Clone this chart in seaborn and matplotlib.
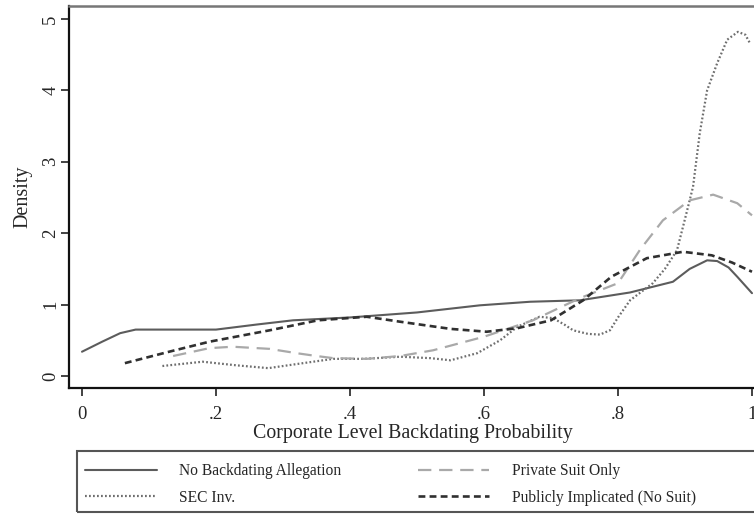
import matplotlib
matplotlib.use("Agg")
import matplotlib.pyplot as plt
import seaborn as sns
import pandas as pd
from matplotlib.lines import Line2D
from matplotlib.patches import Rectangle

# ---- data ----
no_alleg_x = [0.0, 0.03, 0.057, 0.08, 0.12, 0.2, 0.26, 0.315, 0.4, 0.5, 0.594, 0.669, 0.743,
              0.818, 0.882, 0.907, 0.933, 0.948, 0.965, 0.978, 1.0]
no_alleg_y = [0.34, 0.48, 0.60, 0.65, 0.65, 0.65, 0.72, 0.78, 0.82, 0.89, 0.99, 1.04, 1.06,
              1.17, 1.32, 1.50, 1.62, 1.61, 1.52, 1.39, 1.16]

sec_x = [0.12, 0.15, 0.18, 0.23, 0.278, 0.33, 0.375, 0.42, 0.475, 0.52, 0.55, 0.59, 0.624, 0.65,
         0.683, 0.703, 0.72, 0.733, 0.755, 0.773, 0.788, 0.80, 0.818, 0.835, 0.852, 0.87, 0.888,
         0.90, 0.912, 0.922, 0.933, 0.948, 0.963, 0.979, 0.99, 0.997]
sec_y = [0.14, 0.17, 0.20, 0.15, 0.11, 0.18, 0.24, 0.24, 0.27, 0.25, 0.22, 0.32, 0.50, 0.69,
         0.83, 0.81, 0.72, 0.64, 0.59, 0.58, 0.64, 0.82, 1.06, 1.18, 1.30, 1.50, 1.76,
         2.20, 2.65, 3.40, 4.00, 4.38, 4.71, 4.82, 4.78, 4.66]

priv_x = [0.136, 0.19, 0.225, 0.28, 0.32, 0.35, 0.375, 0.425, 0.475, 0.524, 0.60, 0.673, 0.743,
          0.80, 0.833, 0.867, 0.907, 0.942, 0.978, 1.0]
priv_y = [0.28, 0.39, 0.41, 0.38, 0.32, 0.28, 0.25, 0.24, 0.28, 0.36, 0.55, 0.78, 1.09,
          1.30, 1.77, 2.18, 2.46, 2.54, 2.42, 2.25]

pub_x = [0.064, 0.13, 0.19, 0.28, 0.352, 0.425, 0.475, 0.55, 0.604, 0.65, 0.70, 0.748, 0.79,
         0.843, 0.897, 0.94, 0.97, 1.0]
pub_y = [0.18, 0.34, 0.48, 0.64, 0.78, 0.83, 0.76, 0.66, 0.62, 0.67, 0.78, 1.06, 1.39,
         1.65, 1.74, 1.69, 1.59, 1.46]

labels = ["No Backdating Allegation", "SEC Inv.", "Private Suit Only", "Publicly Implicated (No Suit)"]
xticks = [0, 0.2, 0.4, 0.6, 0.8, 1.0]
xtick_labels = ["0", ".2", ".4", ".6", ".8", "1"]
yticks = [0, 1, 2, 3, 4, 5]

sns.set_style("white")
plt.rcParams["font.family"] = ["Liberation Serif", "DejaVu Serif"]

W, H = 754, 514
fig = plt.figure(figsize=(W / 100, H / 100), dpi=100)
ax = fig.add_axes([69 / W, 1 - 388 / H, (757 - 69) / W, (388 - 6) / H])

styles = {
    labels[0]: dict(color="#5c5c5c", lw=1.5, ls="-"),
    labels[1]: dict(color="#6e6e6e", lw=1.6, ls=(0, (0.8, 1.0))),
    labels[2]: dict(color="#a9a9a9", lw=1.6, ls=(0, (6, 3.5))),
    labels[3]: dict(color="#303030", lw=1.9, ls=(0, (2.6, 1.6))),
}
series = [(no_alleg_x, no_alleg_y), (sec_x, sec_y), (priv_x, priv_y), (pub_x, pub_y)]
for lab, (xs, ys) in zip(labels, series):
    df = pd.DataFrame({"x": xs, "y": ys})
    st = styles[lab]
    sns.lineplot(data=df, x="x", y="y", ax=ax, color=st["color"], linewidth=st["lw"],
                 linestyle=st["ls"], sort=False, estimator=None)

ax.set_xlim((69 - 82) / 670, (757 - 82) / 670)
ax.set_ylim(-12 / 71.4, 370 / 71.4)
ax.set_xticks(xticks)
ax.set_xticklabels(xtick_labels)
ax.set_yticks(yticks)
ax.set_yticklabels([str(v) for v in yticks], rotation=90, va="center")
ax.tick_params(axis="both", direction="out", length=6, width=1.2, color="#222222",
               labelsize=13.5, bottom=True, left=True)
ax.tick_params(axis="x", pad=7)
ax.tick_params(axis="y", pad=1)
ax.set_xlabel("Corporate Level Backdating Probability", fontsize=14.3, labelpad=0.5)
ax.set_ylabel("Density", fontsize=14.5, labelpad=7)
for side in ["left", "bottom"]:
    ax.spines[side].set_color("#111111")
    ax.spines[side].set_linewidth(1.6)
for side in ["top", "right"]:
    ax.spines[side].set_color("#777777")
    ax.spines[side].set_linewidth(1.8)

# legend box (extends past the right edge like the reference)
fig.patches.append(Rectangle((77 / W, 1 - 512 / H), (770 - 77) / W, (512 - 451) / H,
                             transform=fig.transFigure, fill=False, edgecolor="#555555",
                             linewidth=1.5))
handles = [Line2D([0], [0], color=styles[l]["color"], lw=styles[l]["lw"], ls=styles[l]["ls"])
           for l in labels]
leg = fig.legend(handles, labels, ncol=2, loc="upper left",
                 bbox_to_anchor=(85 / W, 1 - 463 / H),
                 fontsize=11.2, handlelength=4.6, handletextpad=1.45,
                 columnspacing=4.9, labelspacing=0.7, borderpad=0.0,
                 frameon=False, borderaxespad=0)

fig.savefig("out.png", dpi=100)
